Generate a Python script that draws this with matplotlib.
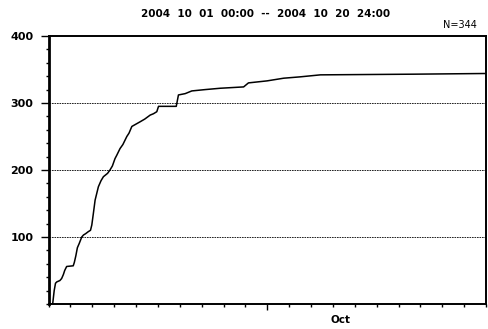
import matplotlib
matplotlib.use("Agg")
import matplotlib.pyplot as plt
from matplotlib.ticker import MultipleLocator, FixedLocator
from matplotlib.transforms import blended_transform_factory

# Elapsed time since 2004-10-01 00:00 (days) and cumulative event count
days = [0.0, 0.19, 0.26, 0.32, 0.38, 0.52, 0.60, 0.68, 0.74, 0.83, 1.13, 1.18,
        1.25, 1.32, 1.40, 1.52, 1.60, 1.70, 1.82, 1.92, 1.98, 2.05, 2.13, 2.28,
        2.40, 2.51, 2.70, 2.81, 2.92, 3.04, 3.12, 3.27, 3.40, 3.58, 3.68, 3.81,
        4.19, 4.40, 4.65, 4.80, 4.95, 5.03, 5.84, 5.94, 6.25, 6.55, 7.16, 7.85,
        8.92, 9.14, 9.99, 10.75, 11.50, 12.43, 16.68, 19.9, 20.0]
counts = [0, 0, 20, 31, 33, 35, 38, 44, 50, 56, 57, 62,
          72, 84, 90, 100, 103, 105, 108, 110, 118, 135, 155, 175,
          184, 190, 195, 200, 206, 217, 222, 232, 238, 250, 255, 265,
          272, 276, 282, 284, 287, 295, 295, 312, 314, 318, 320, 322,
          324, 330, 333, 337, 339, 342, 343, 344, 344]

title = "2004  10  01  00:00  --  2004  10  20  24:00"
total_label = "N=344"
month_label = "Oct"
y_major = [100, 200, 300, 400]
grid_levels = [100, 200, 300]

fig = plt.figure(figsize=(4.88, 3.29), dpi=100)
ax = fig.add_axes([0.0994, 0.076, 0.8965, 0.8146])

ax.plot(days, counts, color="black", lw=1.1)

for g in grid_levels:
    ax.axhline(g, color="black", lw=0.6, ls=(0, (2, 1)), zorder=0)

ax.set_xlim(0, 20)
ax.set_ylim(0, 400)

ax.yaxis.set_major_locator(FixedLocator(y_major))
ax.yaxis.set_minor_locator(MultipleLocator(20))
ax.set_yticklabels([str(v) for v in y_major], fontsize=8, fontweight="bold")
ax.tick_params(axis="y", which="major", direction="out", length=6, width=1.0, pad=5)
ax.tick_params(axis="y", which="minor", direction="out", length=2.5, width=1.0)

ax.xaxis.set_major_locator(FixedLocator([10]))
ax.xaxis.set_minor_locator(MultipleLocator(1))
ax.set_xticklabels([""])
ax.tick_params(axis="x", which="major", direction="out", length=4, width=1.0)
ax.tick_params(axis="x", which="minor", direction="out", length=2, width=1.0)

for side in ["top", "right", "bottom"]:
    ax.spines[side].set_linewidth(1.4)
ax.spines["left"].set_linewidth(2.0)

trans = blended_transform_factory(ax.transData, fig.transFigure)
ax.text(13.35, 1 - 320 / 329, month_label, transform=trans, ha="center",
        va="center", fontsize=7.5, fontweight="bold")

fig.text(265.5 / 488, 1 - 14 / 329, title, ha="center", va="center",
         fontsize=7.5, fontweight="bold")
fig.text(460 / 488, 1 - 25 / 329, total_label, ha="center", va="center",
         fontsize=7)

fig.savefig("out.png", dpi=100)
